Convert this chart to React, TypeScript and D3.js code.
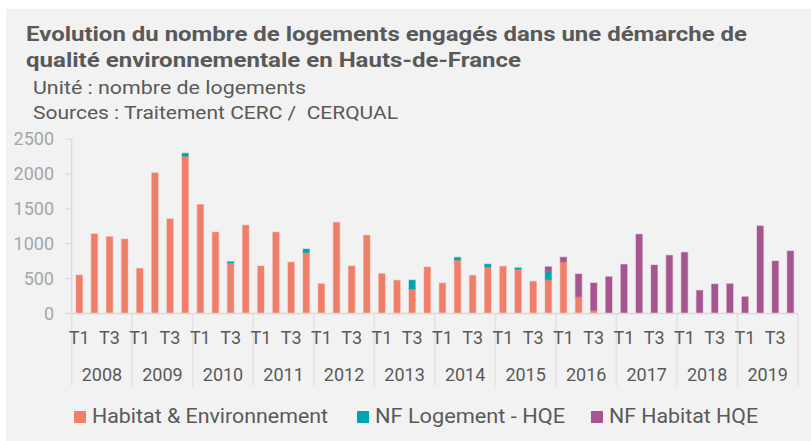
import * as d3 from "d3";

// quarters 2008 T1 .. 2019 T4
const years = ["2008", "2009", "2010", "2011", "2012", "2013", "2014", "2015", "2016", "2017", "2018", "2019"];
const quarters = ["T1", "T2", "T3", "T4"];
const shownQuarters = ["T1", "T3"];
const yTicks = [0, 500, 1000, 1500, 2000, 2500];

const habitatEnv = [
  550, 1140, 1100, 1065, 645, 2015, 1355, 2255, 1560, 1165, 725, 1265,
  680, 1165, 735, 875, 425, 1305, 680, 1120, 570, 475, 350, 665,
  435, 765, 545, 665, 675, 635, 460, 485, 740, 240, 45, 0,
  0, 0, 0, 0, 0, 0, 0, 0, 0, 0, 0, 0,
];
const nfLogementHqe = [
  0, 0, 0, 0, 0, 0, 0, 40, 0, 0, 18, 0,
  0, 0, 0, 48, 0, 0, 0, 0, 0, 0, 128, 0,
  0, 40, 0, 42, 0, 20, 0, 113, 0, 0, 0, 0,
  0, 0, 0, 0, 0, 0, 0, 0, 0, 0, 0, 0,
];
const nfHabitatHqe = [
  0, 0, 0, 0, 0, 0, 0, 0, 0, 0, 0, 0,
  0, 0, 0, 0, 0, 0, 0, 0, 0, 0, 0, 0,
  0, 0, 0, 0, 0, 0, 0, 72, 67, 326, 392, 526,
  703, 1134, 694, 833, 876, 330, 421, 426, 239, 1254, 751, 895,
];

const seriesNames = ["Habitat & Environnement", "NF Logement - HQE", "NF Habitat HQE"];
const seriesColors = ["#F07F6A", "#00A3B0", "#A55690"];

const W = 811;
const H = 441;
const left = 71.7;
const right = 798;
const baseY = 313.5;
const topY = 139;
const font = "Roboto, 'Noto Sans', sans-serif";

// text widths measured on the reference (its lettering is a bit wider than Roboto)
const legendX = [74, 357, 591];
const legendW = [236, 190, 149];

export default function App() {
  const keys = years.flatMap((y) => quarters.map((q) => `${y}-${q}`));
  const rows = keys.map((k, i) => ({
    key: k,
    a: habitatEnv[i],
    b: nfLogementHqe[i],
    c: nfHabitatHqe[i],
  }));
  const stacked = d3.stack<(typeof rows)[number]>().keys(["a", "b", "c"])(rows);

  const x = d3.scaleBand().domain(keys).range([left, right]).paddingInner(0.58).paddingOuter(0.29);
  const y = d3.scaleLinear().domain([0, 2500]).range([baseY, topY]);
  const yearX = d3.scaleBand().domain(years).range([left, right]);

  return (
    <svg width={W} height={H} style={{ position: "absolute", left: 0, top: 0 }} fontFamily={font}>
      <rect x={0} y={0} width={W} height={H} fill="#ffffff" />
      <rect x={6} y={9} width={W - 6} height={H - 9} fill="#F2F2F2" />

      <text x={26} y={41} fontSize={21} fontWeight="bold" fill="#595959" textLength={721} lengthAdjust="spacingAndGlyphs">
        Evolution du nombre de logements engagés dans une démarche de
      </text>
      <text x={26} y={67} fontSize={21} fontWeight="bold" fill="#595959" textLength={495} lengthAdjust="spacingAndGlyphs">
        qualité environnementale en Hauts-de-France
      </text>
      <text x={33} y={94} fontSize={18.5} fill="#595959" textLength={273} lengthAdjust="spacingAndGlyphs">
        Unité : nombre de logements
      </text>
      <text
        x={33}
        y={119}
        fontSize={18.5}
        fill="#595959"
        style={{ whiteSpace: "pre" }}
        textLength={365}
        lengthAdjust="spacingAndGlyphs"
      >
        {"Sources : Traitement CERC /  CERQUAL"}
      </text>

      {/* y axis */}
      <line x1={left} x2={left} y1={topY} y2={baseY} stroke="#D9D9D9" strokeWidth={1.2} />
      {yTicks.map((t) => (
        <g key={t}>
          <line x1={left - 6} x2={left} y1={y(t)} y2={y(t)} stroke="#D9D9D9" strokeWidth={1.2} />
          <text x={54} y={y(t)} dy="0.35em" textAnchor="end" fontSize={18} fill="#A6A6A6">
            {t}
          </text>
        </g>
      ))}

      {/* bars */}
      {stacked.map((s, si) => (
        <g key={s.key} fill={seriesColors[si]} stroke={seriesColors[si]} strokeOpacity={0.35} strokeWidth={1.2}>
          {s.map((d, i) =>
            d[1] - d[0] > 0 ? (
              <rect
                key={i}
                x={x(keys[i])!}
                width={x.bandwidth()}
                y={y(d[1])}
                height={y(d[0]) - y(d[1])}
              />
            ) : null
          )}
        </g>
      ))}

      {/* x axis */}
      <line x1={left - 6} x2={right} y1={baseY} y2={baseY} stroke="#D9D9D9" strokeWidth={1.5} />
      {[...years, "end"].map((yr, i) => {
        const xx = i < years.length ? yearX(yr)! : right;
        return <line key={yr} x1={xx} x2={xx} y1={baseY} y2={386} stroke="#E3E3E3" strokeWidth={1.5} />;
      })}
      {keys.map((k) => {
        const q = k.split("-")[1];
        if (!shownQuarters.includes(q)) return null;
        return (
          <text key={k} x={x(k)! + x.bandwidth() / 2} y={344} textAnchor="middle" fontSize={18} fill="#595959">
            {q}
          </text>
        );
      })}
      {years.map((yr) => (
        <text key={yr} x={yearX(yr)! + yearX.bandwidth() / 2} y={381} textAnchor="middle" fontSize={18} fill="#595959">
          {yr}
        </text>
      ))}

      {/* legend */}
      {seriesNames.map((n, i) => (
        <g key={n}>
          <rect x={legendX[i]} y={411} width={12} height={12} fill={seriesColors[i]} />
          <text
            x={legendX[i] + 18}
            y={423}
            fontSize={20}
            fill="#595959"
            textLength={legendW[i]}
            lengthAdjust="spacingAndGlyphs"
          >
            {n}
          </text>
        </g>
      ))}
    </svg>
  );
}
